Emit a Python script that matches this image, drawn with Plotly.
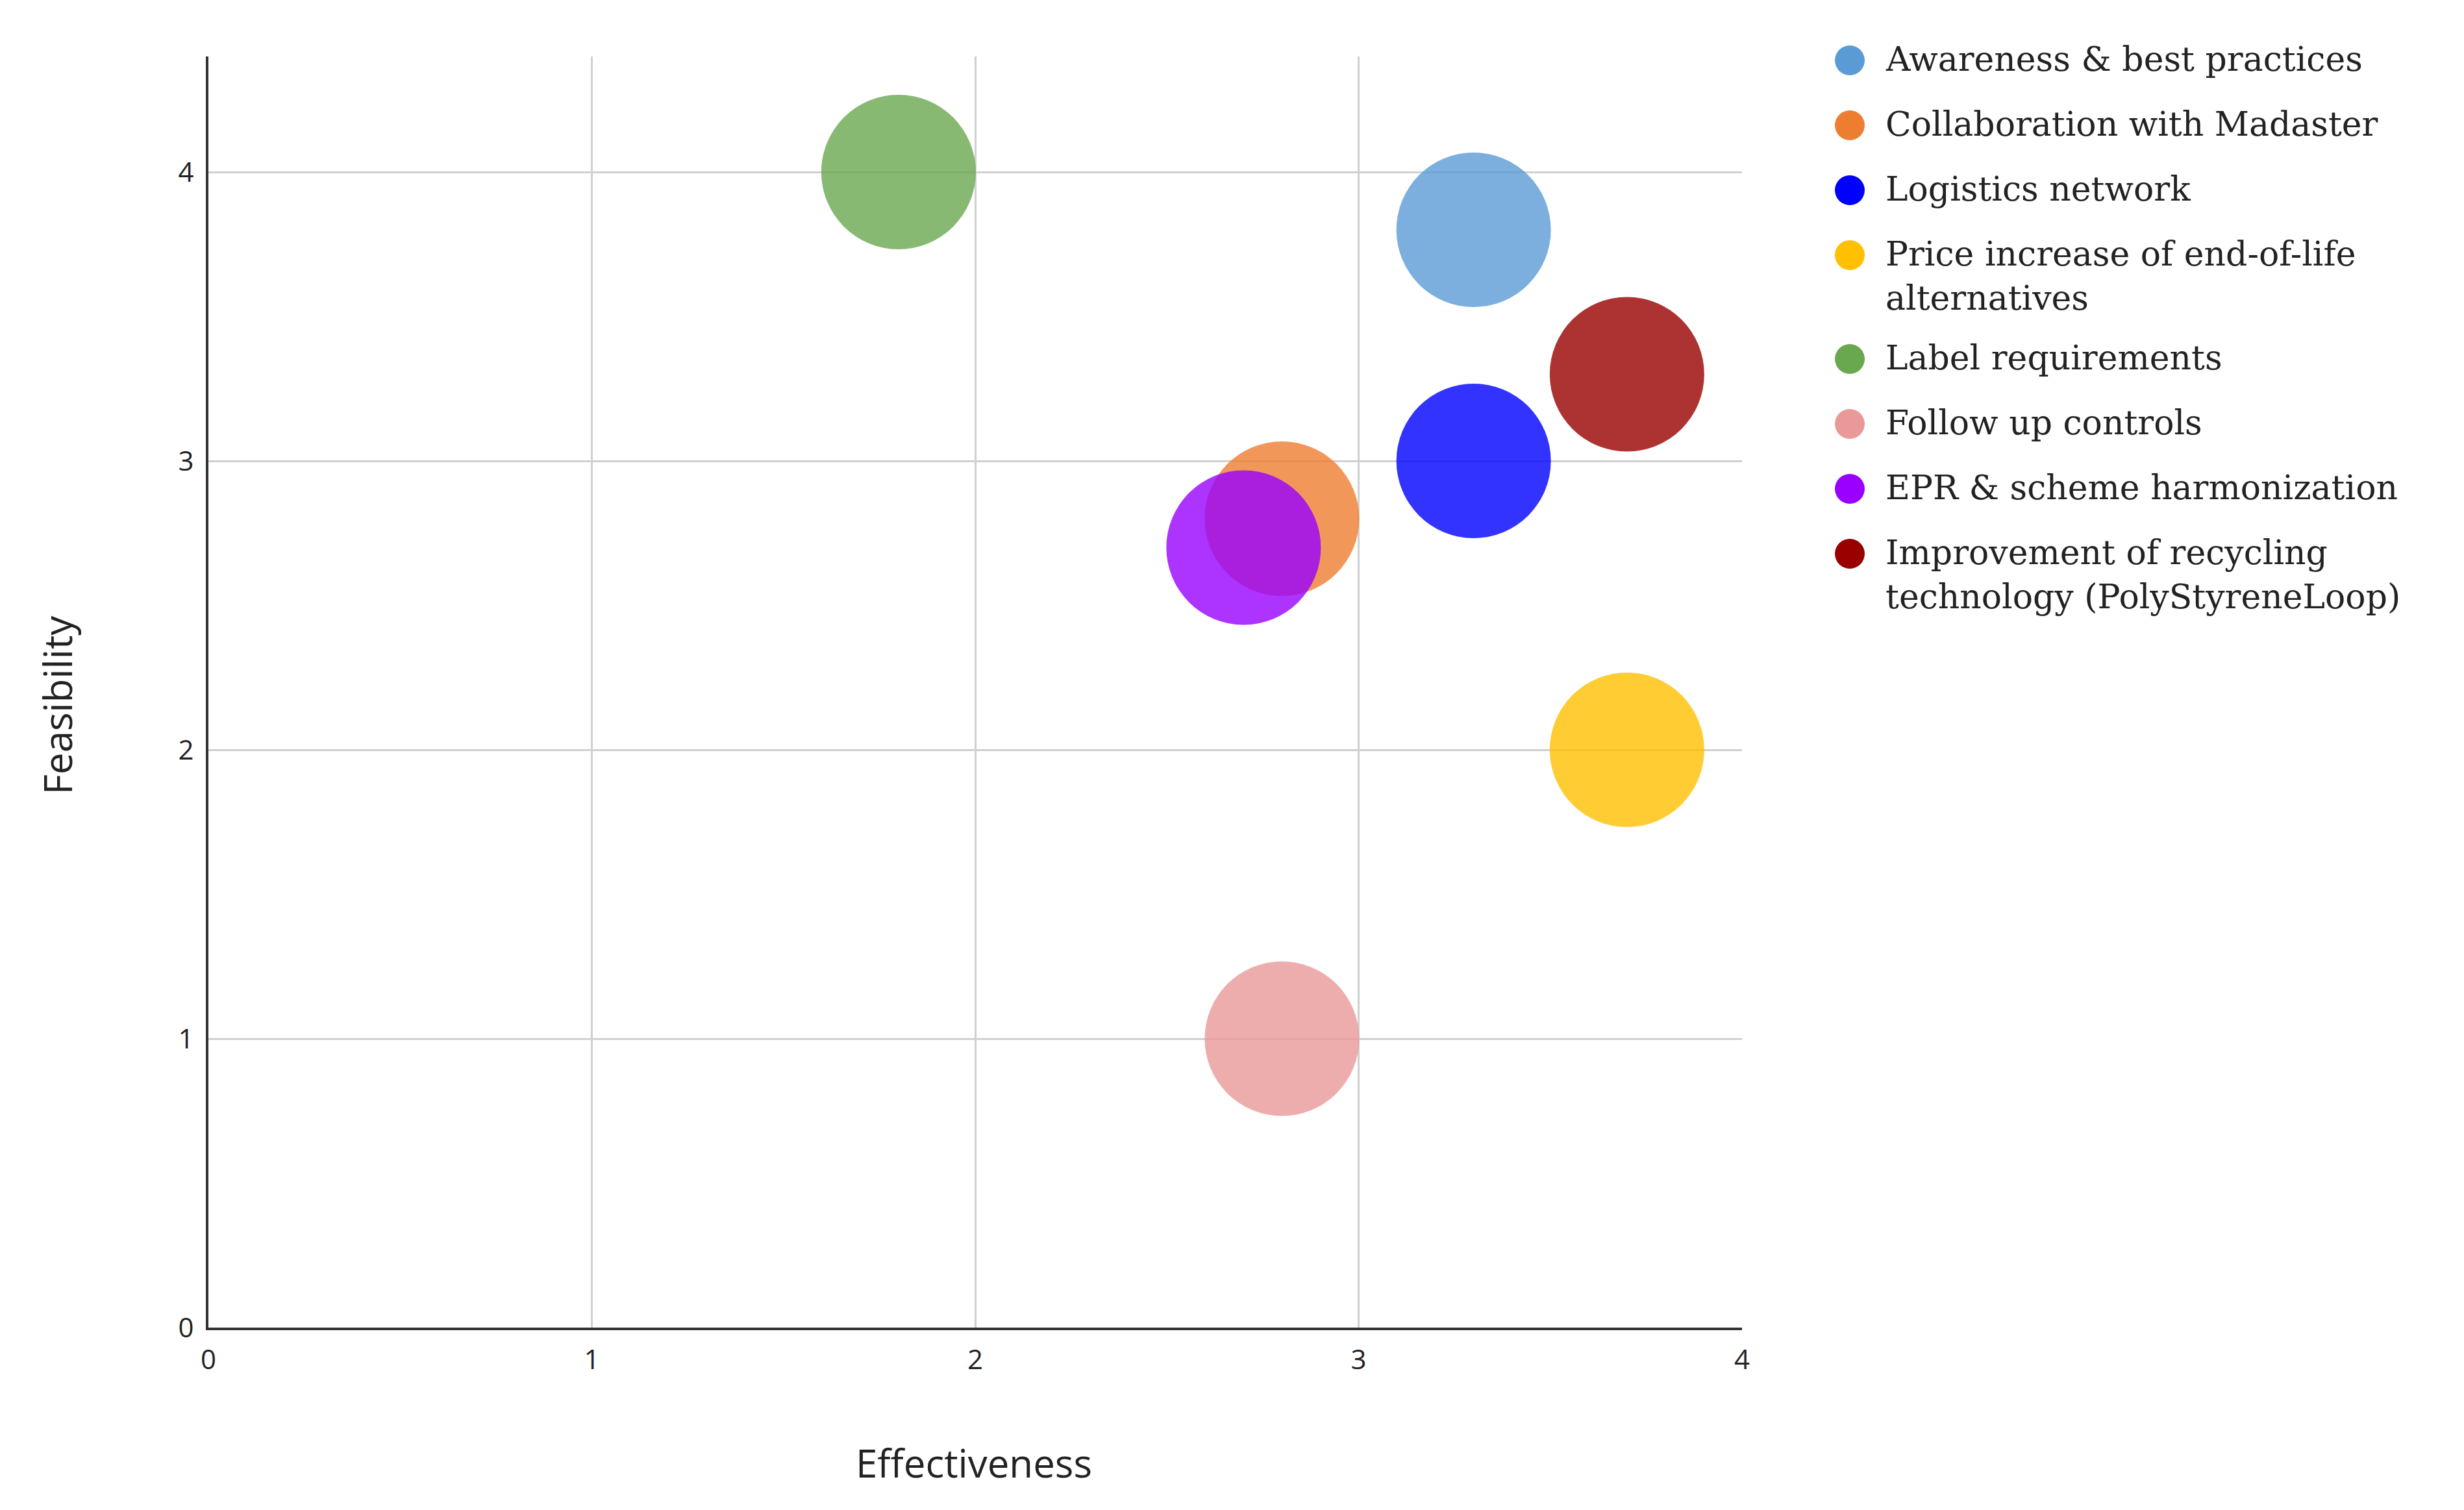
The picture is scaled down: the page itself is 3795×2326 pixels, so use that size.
import plotly.graph_objects as go

# ==========================================
# DATA
# ==========================================
names = [
    "Awareness & best practices",
    "Collaboration with Madaster",
    "Logistics network",
    "Price increase of end-of-life<br>alternatives",
    "Label requirements",
    "Follow up controls",
    "EPR & scheme harmonization",
    "Improvement of recycling<br>technology (PolyStyreneLoop)",
]
effectiveness = [3.3, 2.8, 3.3, 3.7, 1.8, 2.8, 2.7, 3.7]
feasibility = [3.8, 2.8, 3.0, 2.0, 4.0, 1.0, 2.7, 3.3]
bubble_size = [1, 1, 1, 1, 1, 1, 1, 1]
colors = ["#5b9bd5", "#ed7d31", "#0000ff", "#ffc000",
          "#6aa84f", "#ea9999", "#9900ff", "#990000"]
x_ticks = [0, 1, 2, 3, 4]
y_ticks = [0, 1, 2, 3, 4]

# ==========================================
# LAYOUT CONFIG (pixels, page coords)
# ==========================================
PAGE_W, PAGE_H = 3795, 2326
BODY = 8  # default <body> margin of the page
W, H = PAGE_W - 2 * BODY, PAGE_H - 2 * BODY
PLOT_L, PLOT_R, PLOT_T, PLOT_B = 321, 2683, 87, 2045
BUBBLE_PX = 238
LEG_MARKER_X, LEG_TEXT_X = 2849, 2902
LEG_Y0, LEG_STEP, LEG_LINE = 93, 100, 60
AXIS_FONT = "Open Sans"
LEG_FONT = "DejaVu Serif"


def px(v):
    # page pixel -> figure pixel
    return v - BODY


fig = go.Figure()

# bubbles
for name, x, y, s, c in zip(names, effectiveness, feasibility, bubble_size, colors):
    fig.add_trace(go.Scatter(
        x=[x], y=[y], mode="markers", name=name.replace("<br>", " "),
        marker=dict(size=[s], sizemode="diameter", sizeref=max(bubble_size) / BUBBLE_PX,
                    color=c, opacity=0.8, line=dict(width=0)),
        xaxis="x", yaxis="y", showlegend=False,
    ))

# custom legend on a hidden pixel-space subplot
annotations = []
cy = LEG_Y0
for name, c in zip(names, colors):
    fig.add_trace(go.Scatter(
        x=[px(LEG_MARKER_X)], y=[px(cy)], mode="markers",
        marker=dict(size=46, color=c, line=dict(width=0)),
        xaxis="x2", yaxis="y2", showlegend=False, hoverinfo="skip",
    ))
    annotations.append(dict(
        x=px(LEG_TEXT_X), y=px(cy) - 34, xref="x2", yref="y2", text=name,
        xanchor="left", yanchor="top", align="left", showarrow=False,
        font=dict(family=LEG_FONT, size=52, color="#222222"),
    ))
    cy += LEG_STEP + LEG_LINE * name.count("<br>")

# axis titles
annotations.append(dict(
    x=px(1500) / W, y=1 - px(2253) / H, xref="paper", yref="paper", text="Effectiveness",
    showarrow=False, xanchor="center", yanchor="middle",
    font=dict(family=AXIS_FONT, size=60, color="#222222"),
))
annotations.append(dict(
    x=px(88) / W, y=1 - px(1086) / H, xref="paper", yref="paper", text="Feasibility",
    showarrow=False, xanchor="center", yanchor="middle", textangle=-90,
    font=dict(family=AXIS_FONT, size=60, color="#222222"),
))

axis_style = dict(
    showgrid=True, gridcolor="#d0d0d0", gridwidth=3,
    showline=True, linecolor="#333333", linewidth=4,
    zeroline=False, ticks="", automargin=False,
    tickfont=dict(family=AXIS_FONT, size=42, color="#222222"),
)

fig.update_layout(
    width=W, height=H,
    margin=dict(l=0, r=0, t=0, b=0),
    paper_bgcolor="white", plot_bgcolor="rgba(0,0,0,0)",
    showlegend=False,
    xaxis=dict(domain=[px(PLOT_L) / W, px(PLOT_R) / W], range=[0, 4], tickvals=x_ticks,
               ticklabelstandoff=10, anchor="y", **axis_style),
    yaxis=dict(domain=[1 - px(PLOT_B) / H, 1 - px(PLOT_T) / H], range=[0, 4.4], tickvals=y_ticks,
               ticklabelstandoff=10, anchor="x", **axis_style),
    xaxis2=dict(domain=[0, 1], range=[0, W], visible=False, anchor="y2"),
    yaxis2=dict(domain=[0, 1], range=[H, 0], visible=False, anchor="x2"),
    annotations=annotations,
)

fig.write_html("out.html")
